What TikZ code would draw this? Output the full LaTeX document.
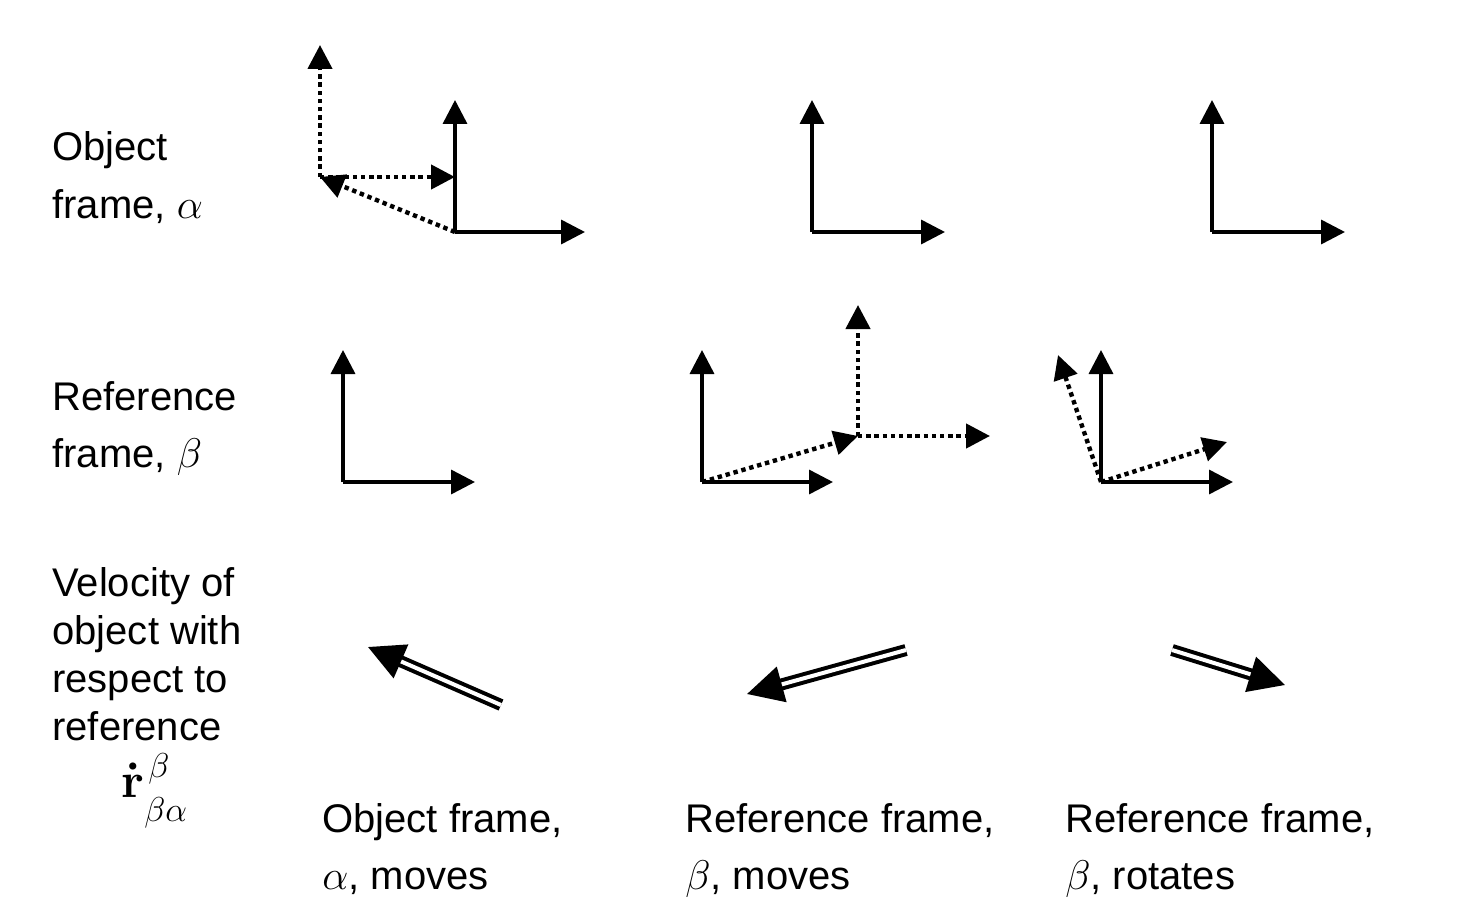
\documentclass[tikz,border=0pt]{standalone}
\usepackage[no-math]{fontspec}
\setmainfont{Liberation Sans}
\usetikzlibrary{arrows.meta}

\tikzset{
  axis/.style={line width=1.75pt, -{Triangle[length=12pt,width=12pt]}},
  dotaxis/.style={axis, line width=2.2pt, dash pattern=on 2.2pt off 1.9pt, -{Triangle[length=12pt,width=12pt]}},
  vel/.style={double, double distance=2pt, line width=2pt, -{Triangle[length=18pt,width=18pt]}},
  lbl/.style={anchor=base west, inner sep=0pt, align=left, font=\fontsize{20}{28.5}\selectfont},
  caption/.style={lbl, font=\fontsize{20}{28.5}\selectfont}
}

\begin{document}
\begin{tikzpicture}[x=0.5pt, y=-0.5pt]
			%%%%% START %%%%%
			\useasboundingbox (0,0) rectangle (1461,915);
			
			% row labels (base = last line)
			\node[lbl] (objlbl) at (52,218) {Object\\frame, $\alpha$};
			\node[lbl] (reflbl) at (52,467) {Reference\\frame, $\beta$};
			\node[lbl, font=\fontsize{20}{24}\selectfont] (vellbl) at (52,740) {Velocity of\\object with\\respect to\\reference};
			\node[anchor=base west, inner sep=0pt, font=\fontsize{17}{20}\selectfont] (rdot) at (121,797)
			  {$\mbox{\fontsize{24}{28}\selectfont\boldmath$\dot{\mathbf{r}}$}^{\,\raisebox{-3pt}{$\textstyle\beta$}}_{\raisebox{-8pt}{$\textstyle\beta\alpha$}}$};
			
			% column captions
			\node[caption] (cap1) at (322,889) {Object frame,\\$\alpha$, moves};
			\node[caption] (cap2) at (685,889) {Reference frame,\\$\beta$, moves};
			\node[caption] (cap3) at (1065,889) {Reference frame,\\$\beta$, rotates};
			
			% object frame moves
			\coordinate (a1) at (455,232);
			\coordinate (a1old) at (320,177);
			\draw[axis] (a1) -- +(130,0);
			\draw[axis] (a1) -- +(0,-132);
			\draw[dotaxis] (a1old) -- +(0,-132);
			\draw[dotaxis] (a1old) -- (a1old -| a1);
			\draw[dotaxis] (a1) -- (a1old);
			
			\coordinate (b1) at (343,482);
			\draw[axis] (b1) -- +(132,0);
			\draw[axis] (b1) -- +(0,-132);
			
			% reference frame moves
			\coordinate (a2) at (812,232);
			\draw[axis] (a2) -- +(133,0);
			\draw[axis] (a2) -- +(0,-132);
			
			\coordinate (b2) at (702,482);
			\coordinate (b2new) at (858,436);
			\draw[axis] (b2) -- +(131,0);
			\draw[axis] (b2) -- +(0,-132);
			\draw[dotaxis] (b2) -- (b2new);
			\draw[dotaxis] (b2new) -- +(0,-131);
			\draw[dotaxis] (b2new) -- +(132,0);
			
			% reference frame rotates
			\coordinate (a3) at (1212,232);
			\draw[axis] (a3) -- +(133,0);
			\draw[axis] (a3) -- +(0,-132);
			
			\coordinate (b3) at (1101,482);
			\draw[axis] (b3) -- +(132,0);
			\draw[axis] (b3) -- +(0,-132);
			\draw[dotaxis] (b3) -- +(126,-40);
			\draw[dotaxis] (b3) -- +(-43,-127);
			
			% velocities
			\coordinate (v1s) at (501,705);
			\coordinate (v1e) at (368,647);
			\coordinate (v2s) at (906,650);
			\coordinate (v2e) at (747,694);
			\coordinate (v3s) at (1172,650);
			\coordinate (v3e) at (1285,685);
			\draw[vel] (v1s) -- (v1e);
			\draw[vel] (v2s) -- (v2e);
			\draw[vel] (v3s) -- (v3e);
			
			%%%%% END %%%%%
\end{tikzpicture}
\end{document}
